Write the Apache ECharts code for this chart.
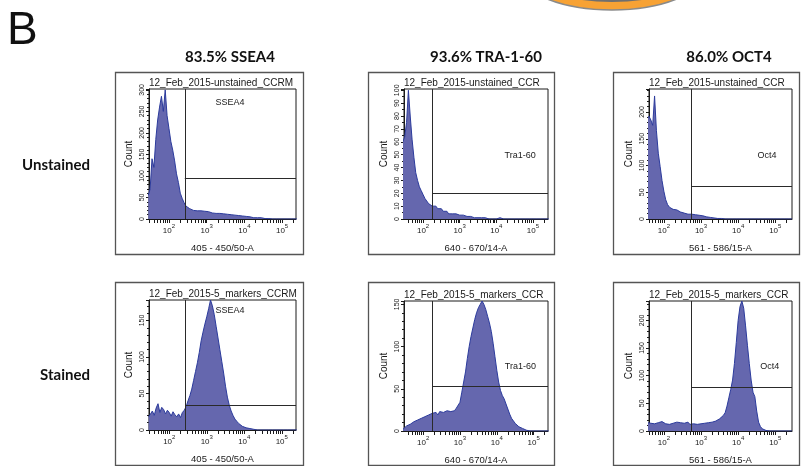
<!DOCTYPE html>
<html><head><meta charset="utf-8">
<script src="https://cdn.jsdelivr.net/npm/echarts@6/dist/echarts.min.js"></script>
<style>html,body{margin:0;padding:0;background:#fff}#c{width:801px;height:466px}</style>
</head><body><div id="c"></div>
<script>
// ---------- data ----------
const binStart = 1.45, binStep = 0.05, binCount = 81;           // log10 intensity bins
const logBins = Array.from({length: binCount}, (_, i) => +(binStart + binStep * i).toFixed(2));

const columnTitles = ['83.5% SSEA4', '93.6% TRA-1-60', '86.0% OCT4'];
const rowTitles = ['Unstained', 'Stained'];
const sampleNames = ['12_Feb_2015-unstained_CCRM', '12_Feb_2015-5_markers_CCRM'];
const channelNames = ['405 - 450/50-A', '640 - 670/14-A', '561 - 586/15-A'];
const gateNames = ['SSEA4', 'Tra1-60', 'Oct4'];
const decadeLabels = [2, 3, 4, 5];

const unstainedSSEA4 = [55,70,140,120,185,230,260,285,250,300, 240,210,180,160,135,105,85,60,48,38,
  30,26,24,22,20,21,19,18,19,17, 18,16,17,15,14,15,13,12,13,11, 12,10,11,9,10,8,9,7,8,6,
  7,5,6,4,5,4,3,4,3,2, 3,2,1,2,1,1,0,1,0,0, 0,0,0,0,0,0,0,0,0,0, 0];
const unstainedTRA = [60,64,75,100,80,62,48,36,30,25, 22,19,16,14,12,11,10,9,10,8,
  7,8,6,5,6,4,5,4,3,4, 3,3,2,3,2,2,1,2,1,1, 1,1,0,1,0,1,0,0,1,0,
  0,0,0,1,0,0,0,0,0,0, 0,0,0,0,0,0,0,0,0,0, 0,0,0,0,0,0,0,0,0,0, 0];
const unstainedOCT4 = [190,190,188,192,185,175,230,165,123,98, 72,52,36,27,22,24,18,16,17,14,
  13,12,11,10,9,8,9,7,8,6, 7,5,6,5,4,5,3,3,2,2, 1,2,1,1,0,1,0,1,0,0,
  0,0,0,0,0,0,0,0,0,0, 0,0,0,0,0,0,0,0,0,0, 0,0,0,0,0,0,0,0,0,0, 0];
const stainedSSEA4 = [18,22,26,20,30,36,24,31,28,22, 27,24,19,25,21,18,22,17,24,27,
  32,40,47,56,68,80,92,106,122,134, 145,155,166,178,170,158,142,126,110,94,
  78,60,45,34,26,20,15,12,9,7, 5,4,3,2,2,1,1,0,0,0, 0,0,0,0,0,0,0,0,0,0, 0,0,0,0,0,0,0,0,0,0, 0];
const stainedTRA = [2,4,6,5,8,9,11,10,13,12, 15,14,17,16,19,18,21,20,22,19,
  23,21,22,20,24,22,23,25,24,27, 29,34,46,58,70,86,100,112,122,132,
  140,146,150,154,150,144,136,128,118,104, 88,72,58,48,42,38,32,26,20,15,
  12,9,7,5,4,3,2,1,1,0, 0,0,0,0,0,0,0,0,0,0, 0];
const stainedOCT4 = [14,16,15,18,14,17,13,16,15,12, 17,14,13,16,12,15,14,11,16,13,
  15,12,14,13,16,12,15,13,14,12, 15,13,16,14,17,15,18,16,19,18,
  21,22,25,28,33,45,60,75,92,122, 160,200,225,235,222,190,155,122,92,70,
  62,36,16,8,4,2,1,0,0,0, 0,0,0,0,0,0,0,0,0,0, 0];

const panelValues = [unstainedSSEA4, unstainedTRA, unstainedOCT4, stainedSSEA4, stainedTRA, stainedOCT4];
const xMins = [1.47, 1.48, 1.60, 1.46, 1.48, 1.60];
const xMaxs = [5.37, 5.41, 5.45, 5.38, 5.39, 5.45];
const yMaxs = [302, 101, 243, 178, 154, 235];
const ySteps = [50, 10, 50, 50, 50, 50];
const gateX = [2.42, 2.26, 2.74, 2.42, 2.25, 2.74];
const gateY = [94, 20, 62, 33.5, 53, 79.5];
const gateLabelX = [3.62, 4.65, 4.78, 3.62, 4.64, 4.85];
const gateLabelY = [271, 49, 118, 163, 76, 117];

// ---------- layout ----------
const gridBoxes = [
  {left:149, top:89, width:147, height:130},
  {left:404, top:89, width:144, height:130},
  {left:649, top:89, width:143, height:130},
  {left:149, top:300, width:147, height:130},
  {left:404, top:301, width:144, height:130},
  {left:649, top:301, width:143, height:130}
];
const frames = [
  [115,72,188,182],[368,72,186,182],[613,72,186,182],
  [115,282,188,183],[368,282,186,183],[613,282,186,183]
];
const titleWidthAdjust = [-1, 2];
const yMinorSplits = [5, 2, 5, 5, 5, 5];
const FILL = '#6567ae', LINE = '#2c3b9c', INK = '#1a1a1a';

function logTicks(min, max) {
  const out = [];
  for (let n = 1; n <= 5; n++) for (let k = 1; k <= 9; k++) {
    const v = Math.log10(k * Math.pow(10, n));
    if (v >= min && v <= max) out.push(v);
  }
  return out;
}
function yLabelValues(max, step) {
  const out = [];
  for (let v = 0; v <= max + 1e-9; v += step) out.push(v);
  return out;
}

const grids = [], xAxes = [], yAxes = [], series = [], graphics = [];
for (let p = 0; p < 6; p++) {
  const col = p % 3, row = Math.floor(p / 3);
  grids.push(Object.assign({show:true, borderColor:INK, borderWidth:1, containLabel:false}, gridBoxes[p]));
  xAxes.push({
    type:'value', gridIndex:p, min:xMins[p], max:xMaxs[p],
    axisLine:{show:true, onZero:false, lineStyle:{color:INK, width:1}},
    axisTick:{show:true, length:4, customValues: logTicks(xMins[p], xMaxs[p]), lineStyle:{color:INK, width:1}},
    splitLine:{show:false},
    axisLabel:{show:true, customValues: decadeLabels, margin:4,
      formatter: v => '{b|10}{s|' + v + '}',
      rich:{ b:{fontSize:8, fontFamily:'Liberation Sans', color:INK, lineHeight:12, verticalAlign:'bottom'},
             s:{fontSize:6, fontFamily:'Liberation Sans', color:INK, lineHeight:12, verticalAlign:'top'} }},
    name: channelNames[col], nameLocation:'middle', nameGap:24,
    nameTextStyle:{fontSize:9.5, fontFamily:'Liberation Sans', color:INK}
  });
  yAxes.push({
    type:'value', gridIndex:p, min:0, max:yMaxs[p], interval:ySteps[p],
    axisLine:{show:true, lineStyle:{color:INK, width:1}},
    axisTick:{show:true, length:3, lineStyle:{color:INK, width:1}},
    minorTick:{show:true, splitNumber:yMinorSplits[p], length:2, lineStyle:{color:INK, width:1}},
    splitLine:{show:false}, minorSplitLine:{show:false},
    axisLabel:{rotate:90, fontSize:7, fontFamily:'Liberation Sans', color:INK, margin:3,
      customValues: yLabelValues(yMaxs[p], ySteps[p])},
    name:'Count', nameLocation:'middle', nameGap:15, nameRotate:90,
    nameTextStyle:{fontSize:10, fontFamily:'Liberation Sans', color:INK}
  });
  series.push({
    type:'line', xAxisIndex:p, yAxisIndex:p, showSymbol:false, symbol:'none', clip:true,
    data: logBins.map((x, i) => [x, panelValues[p][i]]),
    lineStyle:{color:LINE, width:1}, areaStyle:{color:FILL, opacity:1}, itemStyle:{color:LINE},
    silent:true,
    markLine:{ silent:true, symbol:'none', animation:false,
      lineStyle:{color:'#2a2a2a', width:1, type:'solid'}, label:{show:false},
      data:[
        [{coord:[gateX[p], 0]}, {coord:[gateX[p], yMaxs[p]]}],
        [{coord:[gateX[p], gateY[p]]}, {coord:[xMaxs[p], gateY[p]]}]
      ]},
    markPoint:{ silent:true, symbol:'circle', symbolSize:0, animation:false,
      label:{show:true, formatter:'{b}', fontSize:9, fontFamily:'Liberation Sans', color:INK},
      data:[{name:gateNames[col], coord:[gateLabelX[p], gateLabelY[p]]}]}
  });
  const f = frames[p];
  graphics.push({type:'rect', shape:{x:f[0]+0.5, y:f[1]+0.5, width:f[2], height:f[3]},
    style:{fill:'none', stroke:'#555', lineWidth:1.3}, z:0});
  const g = gridBoxes[p];
  graphics.push({type:'text', x:g.left, y:g.top - 1,
    style:{text: sampleNames[row], font:'10px "Liberation Sans"', fill:INK,
      verticalAlign:'bottom', width:g.width + titleWidthAdjust[row], overflow:'truncate', ellipsis:''}});
}

const colCenters = [230, 486, 729];
columnTitles.forEach((t, i) => graphics.push({type:'text', x:colCenters[i], y:57,
  style:{text:t, font:'bold 15px Lato', fill:'#111', align:'center', verticalAlign:'middle'}}));
const rowY = [165, 375];
rowTitles.forEach((t, i) => graphics.push({type:'text', x:90, y:rowY[i],
  style:{text:t, font:'bold 15px Lato', fill:'#111', align:'right', verticalAlign:'middle'}}));
graphics.push({type:'text', x:7, y:31,
  style:{text:'B', font:'46px "Liberation Sans"', fill:'#111', verticalAlign:'middle'}});
// fragment of the previous panel's orange disc at the top edge
graphics.push({type:'ellipse', shape:{cx:612, cy:-28, rx:92, ry:38},
  style:{fill:'#f7a234', stroke:'#8a8a8a', lineWidth:1.5}});
graphics.push({type:'ellipse', shape:{cx:612, cy:-33, rx:86, ry:34},
  style:{fill:'#f39a2a', stroke:'#6f6f6f', lineWidth:2}});

const chart = echarts.init(document.getElementById('c'), null, {renderer:'canvas'});
chart.setOption({
  animation:false, backgroundColor:'#fff',
  grid:grids, xAxis:xAxes, yAxis:yAxes, series:series, graphic:graphics
});
</script></body></html>
